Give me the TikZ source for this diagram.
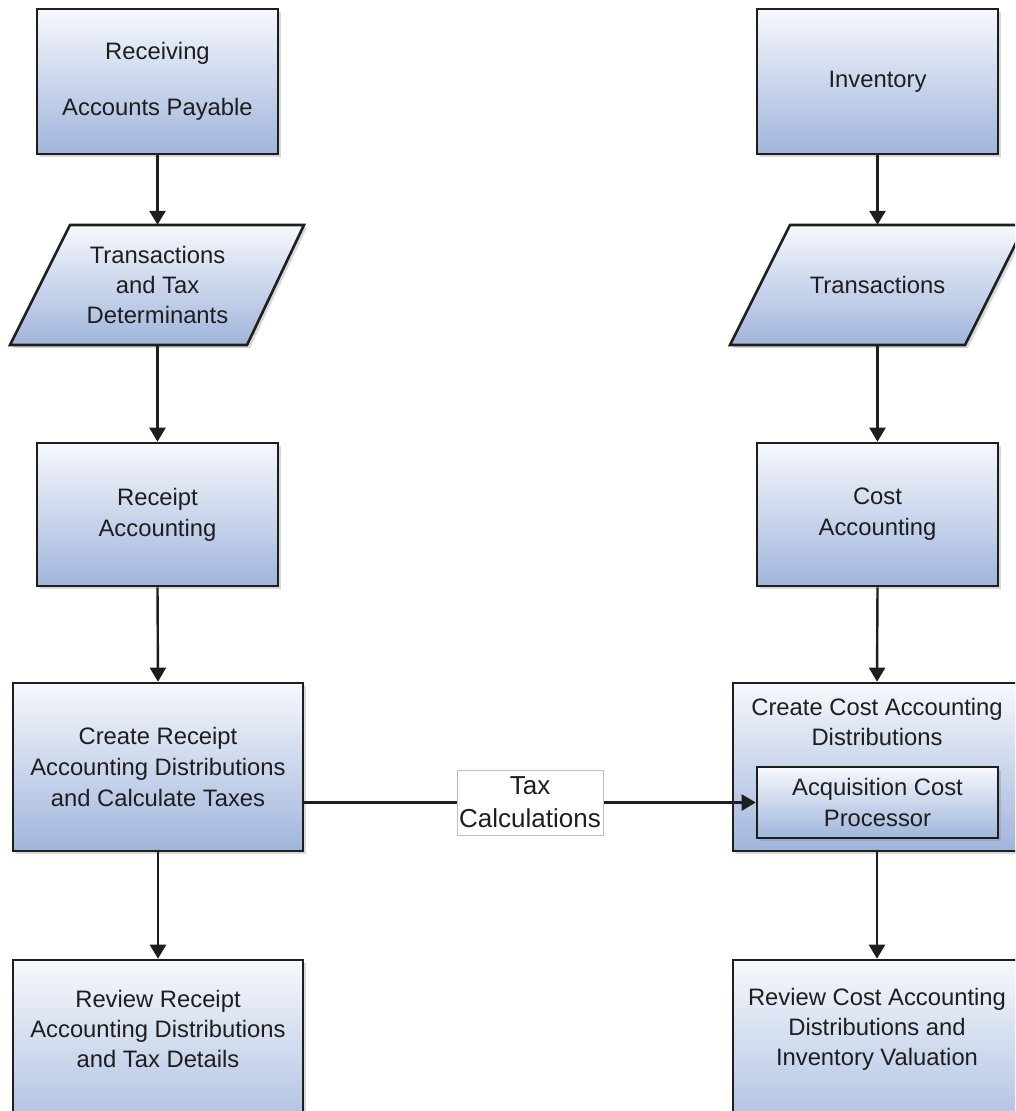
\documentclass[tikz,border=0pt]{standalone}
\usepackage{fontspec}
\setmainfont{Liberation Sans}
\usetikzlibrary{arrows.meta,shadows}
\definecolor{topc}{RGB}{246,248,252}
\definecolor{botc}{RGB}{160,181,220}
\definecolor{edgec}{RGB}{30,30,30}
\definecolor{txtc}{RGB}{30,30,30}
\begin{document}
\begin{tikzpicture}[x=1pt,y=-1pt]
\tikzset{
  shad/.style={drop shadow={shadow xshift=3pt, shadow yshift=-3pt, opacity=0.3}},
  box/.style={rectangle, draw=edgec, line width=2.6pt, top color=topc, bottom color=botc,
    shad, inner sep=0pt, font=\fontsize{23.8}{31}\selectfont, text=txtc, align=center},
  para/.style={draw=edgec, line width=2.6pt, top color=topc, bottom color=botc, shad},
  ptext/.style={rectangle, inner sep=0pt, minimum width=180pt, minimum height=120pt,
    font=\fontsize{23.8}{30}\selectfont, text=txtc, align=center},
  btext/.style={inner sep=0pt, font=\fontsize{23.8}{30}\selectfont, text=txtc, align=center},
  arr/.style={draw=edgec, line width=2.4pt, -{Triangle[length=14pt,width=16pt]}},
  lbl/.style={rectangle, fill=white, draw=black!25, line width=0.7pt, inner sep=0pt,
    minimum width=146pt, minimum height=65pt, font=\fontsize{26}{33}\selectfont,
    text=txtc, align=center}
}
\useasboundingbox (0,0) rectangle (1015,1111);
\clip (0,0) rectangle (1015,1111);
\fill[white] (0,0) rectangle (1015,1111);

% left column
\node[box, minimum width=241pt, minimum height=145pt] (recv) at (157.5,81.5)
  {Receiving\\[25pt]Accounts Payable};
\path[para] (70,225) -- (304,225) -- (247,345) -- (10,345) -- cycle;
\node[ptext] (ltrans) at (157.5,285) {Transactions\\and Tax\\Determinants};
\node[box, minimum width=241pt, minimum height=143pt] (racc) at (157.5,514.5)
  {Receipt\\Accounting};
\node[box, minimum width=290pt, minimum height=168pt] (crd) at (158,767)
  {Create Receipt\\Accounting Distributions\\and Calculate Taxes};
\node[box, minimum width=290pt, minimum height=200pt] (rev1) at (158,1060) {};
\node[btext] (rev1t) at (158,1029) {Review Receipt\\Accounting Distributions\\and Tax Details};

% right column
\node[box, minimum width=241pt, minimum height=145pt] (inv) at (877.5,81.5) {Inventory};
\path[para] (790,225) -- (1025,225) -- (965,345) -- (730,345) -- cycle;
\node[ptext] (rtrans) at (877.5,285) {Transactions};
\node[box, minimum width=241pt, minimum height=143pt] (cacc) at (877.5,514.5)
  {Cost\\Accounting};
\node[box, minimum width=288pt, minimum height=168pt] (ccd) at (877,767) {};
\node[btext] (ccdt) at (877,722) {Create Cost Accounting\\Distributions};
\node[box, minimum width=241pt, minimum height=71pt] (acp) at (877.5,802.5)
  {Acquisition Cost\\Processor};
\node[box, minimum width=288pt, minimum height=200pt] (rev2) at (877,1060) {};
\node[btext] (rev2t) at (877,1029) {Review Cost Accounting\\Distributions and\\Inventory Valuation};

% connectors
\draw[arr] (recv.south) -- (ltrans.north);
\draw[arr] (ltrans.south) -- (racc.north);
\draw[arr] (racc.south) -- (crd.north);
\draw[arr] (crd.south) -- (rev1.north);
\draw[arr] (inv.south) -- (rtrans.north);
\draw[arr] (rtrans.south) -- (cacc.north);
\draw[arr] (cacc.south) -- (ccd.north);
\draw[arr] (ccd.south) -- (rev2.north);
\draw[arr] (crd.east |- acp.west) -- node[lbl] (taxl) {Tax\\Calculations} (acp.west);
\end{tikzpicture}
\end{document}
